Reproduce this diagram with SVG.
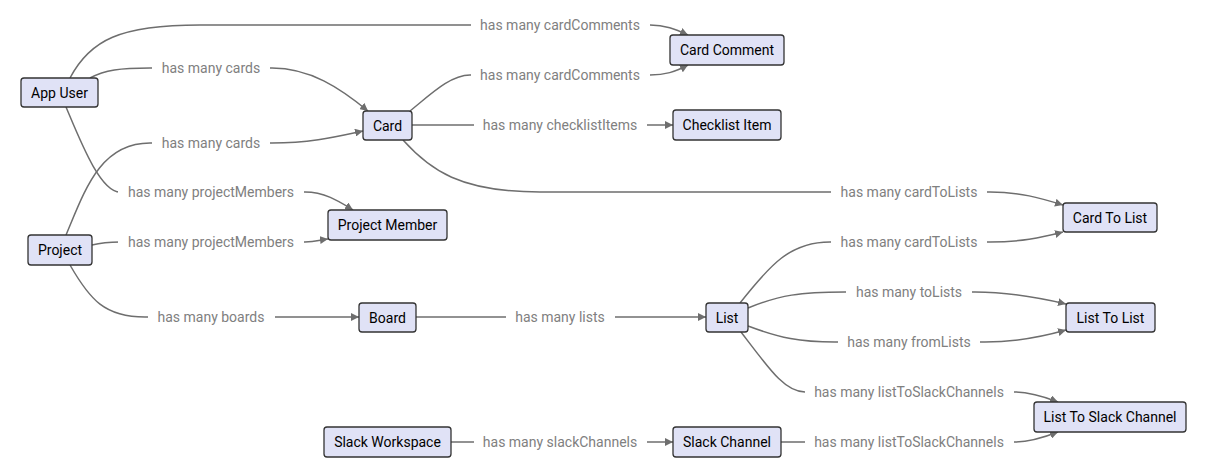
<svg xmlns="http://www.w3.org/2000/svg" width="1205" height="475" viewBox="0 0 1205 475">
<style>
.node rect{fill:#e0e2f6;stroke:#333;stroke-width:1.3}
.node text{font-family:Roboto,"Liberation Sans",sans-serif;font-size:14px;fill:#000;text-anchor:middle;dominant-baseline:central}
.edges path{fill:none;stroke:#6e6e6e;stroke-width:1.5}
.lbl rect{fill:#fff}
.lbl text{font-family:Roboto,"Liberation Sans",sans-serif;font-size:14px;fill:#808080;text-anchor:middle;dominant-baseline:central}
</style>
<defs>
<marker id="arr" viewBox="0 0 10 10" refX="10" refY="5" markerWidth="8" markerHeight="8" markerUnits="userSpaceOnUse" orient="auto">
<path d="M0,0 L10,5 L0,10 z" fill="#6e6e6e"/>
</marker>
</defs>
<rect width="1205" height="475" fill="#fff"/>
<g class="edges" id="connectors">
<path marker-end="url(#arr)" d="M70 78 C90 40,120 25,200 25 L650 25 C665 25,675 29,688 35"/>
<path marker-end="url(#arr)" d="M90 78 C105 70,120 68,150 68 L272 68 C310 68,340 88,368 111"/>
<path marker-end="url(#arr)" d="M410 111 C430 95,450 75,470 75 L650 75 C665 75,675 72,688 65"/>
<path marker-end="url(#arr)" d="M412 125 L673 125"/>
<path marker-end="url(#arr)" d="M66 235 C85 190,100 143,150 143 L272 143 C310 143,335 137,363 131"/>
<path marker-end="url(#arr)" d="M66 107 C80 140,100 192,120 192 L305 192 C325 192,340 202,353 210"/>
<path marker-end="url(#arr)" d="M403 140 C430 170,460 192,540 192 L990 192 C1020 192,1040 198,1063 205"/>
<path marker-end="url(#arr)" d="M92 245 C100 243,110 242,120 242 L305 242 C315 242,320 240,328 239"/>
<path marker-end="url(#arr)" d="M740 303 C770 265,790 242,830 242 L990 242 C1020 242,1040 238,1063 232"/>
<path marker-end="url(#arr)" d="M748 308 C780 295,800 292,845 292 L975 292 C1010 292,1040 298,1066 304"/>
<path marker-end="url(#arr)" d="M70 265 C90 300,105 317,145 317 L359 317"/>
<path marker-end="url(#arr)" d="M416 317 L706 317"/>
<path marker-end="url(#arr)" d="M748 326 C780 338,800 342,835 342 L985 342 C1020 342,1045 336,1066 330"/>
<path marker-end="url(#arr)" d="M741 332 C770 370,785 392,805 392 L1015 392 C1030 392,1045 397,1058 402"/>
<path marker-end="url(#arr)" d="M451 442 L673 442"/>
<path marker-end="url(#arr)" d="M781 442 L1015 442 C1030 442,1045 437,1058 432"/>
</g>
<g class="lbl" id="labels">
<rect x="471" y="15" width="179" height="20"/><text x="560" y="25">has many cardComments</text>
<rect x="152" y="58" width="118" height="20"/><text x="211" y="68">has many cards</text>
<rect x="471" y="65" width="179" height="20"/><text x="560" y="75">has many cardComments</text>
<rect x="474" y="115" width="173" height="20"/><text x="560" y="125">has many checklistItems</text>
<rect x="152" y="133" width="118" height="20"/><text x="211" y="143">has many cards</text>
<rect x="118" y="182" width="186" height="20"/><text x="211" y="192">has many projectMembers</text>
<rect x="831" y="182" width="156" height="20"/><text x="909" y="192">has many cardToLists</text>
<rect x="118" y="232" width="186" height="20"/><text x="211" y="242">has many projectMembers</text>
<rect x="831" y="232" width="156" height="20"/><text x="909" y="242">has many cardToLists</text>
<rect x="846" y="282" width="126" height="20"/><text x="909" y="292">has many toLists</text>
<rect x="148" y="307" width="127" height="20"/><text x="211" y="317">has many boards</text>
<rect x="506" y="307" width="109" height="20"/><text x="560" y="317">has many lists</text>
<rect x="838" y="332" width="142" height="20"/><text x="909" y="342">has many fromLists</text>
<rect x="805" y="382" width="209" height="20"/><text x="909" y="392">has many listToSlackChannels</text>
<rect x="474" y="432" width="173" height="20"/><text x="560" y="442">has many slackChannels</text>
<rect x="805" y="432" width="209" height="20"/><text x="909" y="442">has many listToSlackChannels</text>
</g>
<g class="node" id="app-user"><rect x="21" y="78" width="77" height="29" rx="3"/><text x="59.5" y="92.5">App User</text></g>
<g class="node" id="card-comment"><rect x="670" y="35" width="114" height="30" rx="3"/><text x="727" y="50">Card Comment</text></g>
<g class="node" id="card"><rect x="363" y="111" width="49" height="29" rx="3"/><text x="387.5" y="125.5">Card</text></g>
<g class="node" id="checklist-item"><rect x="673" y="110" width="108" height="30" rx="3"/><text x="727" y="125">Checklist Item</text></g>
<g class="node" id="project"><rect x="28" y="235" width="64" height="30" rx="3"/><text x="60" y="250">Project</text></g>
<g class="node" id="project-member"><rect x="328" y="210" width="119" height="30" rx="3"/><text x="387.5" y="225">Project Member</text></g>
<g class="node" id="board"><rect x="359" y="303" width="57" height="29" rx="3"/><text x="387.5" y="317.5">Board</text></g>
<g class="node" id="list"><rect x="706" y="303" width="42" height="29" rx="3"/><text x="727" y="317.5">List</text></g>
<g class="node" id="card-to-list"><rect x="1063" y="203" width="94" height="29" rx="3"/><text x="1110" y="217.5">Card To List</text></g>
<g class="node" id="list-to-list"><rect x="1066" y="303" width="89" height="29" rx="3"/><text x="1110.5" y="317.5">List To List</text></g>
<g class="node" id="list-to-slack-channel"><rect x="1034" y="402" width="152" height="30" rx="3"/><text x="1110" y="417">List To Slack Channel</text></g>
<g class="node" id="slack-workspace"><rect x="324" y="427" width="127" height="30" rx="3"/><text x="387.5" y="442">Slack Workspace</text></g>
<g class="node" id="slack-channel"><rect x="673" y="427" width="108" height="30" rx="3"/><text x="727" y="442">Slack Channel</text></g>
</svg>
